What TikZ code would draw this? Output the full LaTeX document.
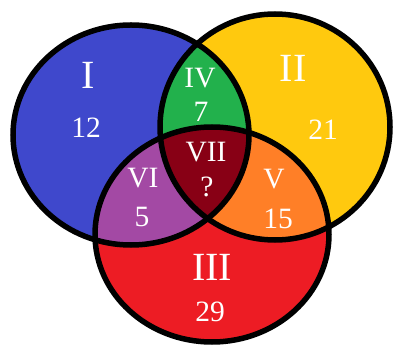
\documentclass[tikz,border=0pt]{standalone}
\usepackage{fontspec}
\setmainfont{Liberation Serif}
\definecolor{cblue}{HTML}{3F48CC}
\definecolor{cyellow}{HTML}{FFC90E}
\definecolor{cred}{HTML}{ED1C24}
\definecolor{cgreen}{HTML}{22B14C}
\definecolor{corange}{HTML}{FF7F27}
\definecolor{cpurple}{HTML}{A349A4}
\definecolor{cdark}{HTML}{880015}
\tikzset{
  big/.style={text=white, font=\fontsize{40}{40}\selectfont, inner sep=0pt},
  small/.style={text=white, font=\fontsize{29.5}{29.5}\selectfont, inner sep=0pt},
  rim/.style={draw=black, line width=5.5pt}
}
\newcommand{\blueE}{(131,135) ellipse [x radius=118pt, y radius=110pt]}
\newcommand{\yelE}{(275,127) ellipse [x radius=115pt, y radius=113pt]}
\newcommand{\redE}{(212,234.5) ellipse [x radius=117pt, y radius=107.5pt]}
\begin{document}
\begin{tikzpicture}[x=1pt,y=-1pt]
\useasboundingbox (0,0) rectangle (393,347);
\fill[white] (0,0) rectangle (393,347);
\fill[cblue] \blueE;
\fill[cyellow] \yelE;
\begin{scope}
  \clip \blueE;
  \fill[cgreen] \yelE;
\end{scope}
\fill[cred] \redE;
\begin{scope}
  \clip \redE;
  \fill[cpurple] \blueE;
  \fill[corange] \yelE;
  \clip \blueE;
  \fill[cdark] \yelE;
\end{scope}
\draw[rim] \blueE;
\draw[rim] \yelE;
\draw[rim] \redE;
\node[big] (t1) at (88,75) {I};
\node[small] (n1) at (86,128) {12};
\node[big] (t2) at (293,68) {II};
\node[small] (n2) at (323,130) {21};
\node[big] (t3) at (212,267) {III};
\node[small] (n3) at (210,312) {29};
\node[small] (t4) at (200,78) {IV};
\node[small] (n4) at (201,112) {7};
\node[small] (t5) at (274,179) {V};
\node[small] (n5) at (278,219) {15};
\node[small] (t6) at (143,178) {VI};
\node[small] (n6) at (142,217) {5};
\node[small] (t7) at (206,152) {VII};
\node[small] (n7) at (207,187) {?};
\end{tikzpicture}
\end{document}
